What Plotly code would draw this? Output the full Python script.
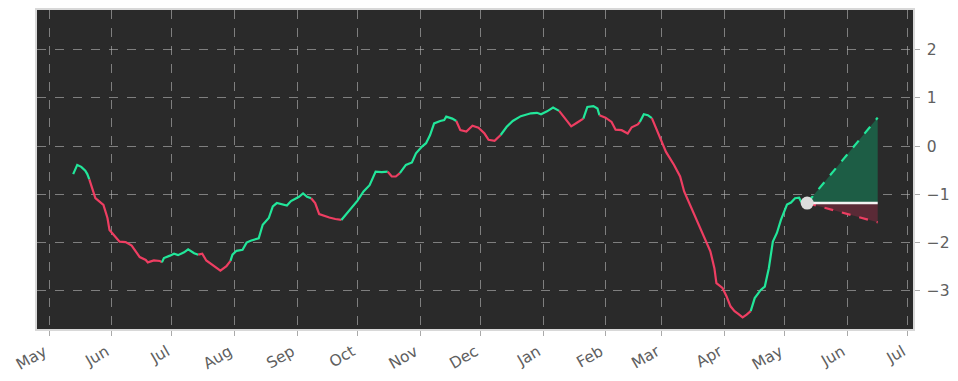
import pandas as pd
import plotly.graph_objects as go

# ---- data ----
base_date = "2024-05-01"
day_offsets = [12,14,16,18,19,20,22,23,27,29,30,33,35,38,41,43,45,48,49,52,55,56,57,60,62,64,67,69,72,74,
               76,78,81,82,85,88,90,91,93,96,98,100,104,106,109,111,113,115,118,120,124,126,128,130,132,134,
               136,139,142,145,147,150,153,156,159,162,165,168,170,172,174,177,180,182,185,187,189,191,194,196,
               197,200,202,204,207,210,213,216,218,221,224,227,230,234,239,242,244,247,250,253,256,259,262,265,
               267,270,272,273,276,279,281,284,287,289,292,293,295,297,299,301,304,306,310,313,315,318,320,323,
               326,328,330,331,334,336,338,340,342,344,346,348,350,353,355,357,359,361,363,366,368,370,372,373,376]
values = [-0.58,-0.39,-0.43,-0.51,-0.58,-0.69,-0.98,-1.08,-1.22,-1.49,-1.74,-1.89,-1.98,-1.99,-2.06,-2.18,-2.30,-2.36,-2.41,-2.37,
          -2.38,-2.41,-2.32,-2.27,-2.23,-2.26,-2.20,-2.14,-2.22,-2.25,-2.23,-2.37,-2.46,-2.48,-2.58,-2.49,-2.38,-2.25,-2.17,-2.15,
          -2.00,-1.96,-1.91,-1.63,-1.49,-1.25,-1.18,-1.20,-1.23,-1.14,-1.05,-0.98,-1.05,-1.08,-1.18,-1.41,-1.44,-1.48,-1.51,-1.53,
          -1.43,-1.28,-1.13,-0.94,-0.81,-0.53,-0.54,-0.53,-0.63,-0.63,-0.56,-0.39,-0.34,-0.15,-0.01,0.06,0.23,0.47,0.52,0.54,
          0.61,0.57,0.52,0.33,0.30,0.42,0.38,0.26,0.13,0.11,0.23,0.40,0.52,0.62,0.68,0.69,0.66,0.72,0.80,0.73,
          0.57,0.41,0.49,0.57,0.81,0.83,0.78,0.64,0.59,0.50,0.34,0.33,0.26,0.39,0.45,0.50,0.66,0.64,0.58,0.37,
          0.06,-0.12,-0.39,-0.63,-0.94,-1.22,-1.43,-1.70,-1.98,-2.18,-2.53,-2.84,-2.94,-3.11,-3.32,-3.42,-3.48,-3.55,-3.49,-3.42,
          -3.15,-2.98,-2.91,-2.53,-1.98,-1.80,-1.53,-1.21,-1.17,-1.08,-1.07,-1.15,-1.18]
# periods (day offsets) drawn in the "falling" colour
red_periods = [(20,56),(74,90),(130,145),(168,174),(202,224),(253,265),(273,293),(299,349)]

# forecast cone
fc_days = [376, 411]
fc_base = [-1.18, -1.18]
fc_upper = [-1.18, 0.59]
fc_lower = [-1.18, -1.58]

y_tickvals = [-3, -2, -1, 0, 1, 2]
y_ticktext = ["\u22123", "\u22122", "\u22121", "0", "1", "2"]

# ---- styling ----
GREEN = "#22e69a"
RED = "#ee3e62"
BG = "#2a2a2a"

t0 = pd.Timestamp(base_date)
dates = [t0 + pd.Timedelta(days=d) for d in day_offsets]
fc_dates = [t0 + pd.Timedelta(days=d) for d in fc_days]

def is_red(mid):
    return any(a <= mid < b for a, b in red_periods)

fig = go.Figure()

# colour runs
seg_cols = [RED if is_red((day_offsets[i] + day_offsets[i+1]) / 2) else GREEN for i in range(len(day_offsets) - 1)]
start = 0
for i in range(1, len(seg_cols) + 1):
    if i == len(seg_cols) or seg_cols[i] != seg_cols[start]:
        fig.add_trace(go.Scatter(x=dates[start:i+1], y=values[start:i+1], mode="lines",
                                 line=dict(color=seg_cols[start], width=2.2), hoverinfo="skip", showlegend=False))
        start = i

# forecast fills
fig.add_trace(go.Scatter(x=[fc_dates[0], fc_dates[1], fc_dates[1], fc_dates[0]],
                         y=[fc_base[0], fc_upper[1], fc_base[1], fc_base[0]],
                         fill="toself", fillcolor="#1d5d45", line=dict(width=0), mode="lines",
                         hoverinfo="skip", showlegend=False))
fig.add_trace(go.Scatter(x=[fc_dates[0], fc_dates[1], fc_dates[1], fc_dates[0]],
                         y=[fc_base[0], fc_lower[1], fc_base[1], fc_base[0]],
                         fill="toself", fillcolor="#5a2a36", line=dict(width=0), mode="lines",
                         hoverinfo="skip", showlegend=False))
fig.add_trace(go.Scatter(x=fc_dates, y=fc_upper, mode="lines", line=dict(color=GREEN, width=2.2, dash="dash"),
                         hoverinfo="skip", showlegend=False))
fig.add_trace(go.Scatter(x=fc_dates, y=fc_lower, mode="lines", line=dict(color=RED, width=2.2, dash="dash"),
                         hoverinfo="skip", showlegend=False))
fig.add_trace(go.Scatter(x=fc_dates, y=fc_base, mode="lines", line=dict(color="#f2f2f2", width=2.5),
                         hoverinfo="skip", showlegend=False))
fig.add_trace(go.Scatter(x=[fc_dates[0]], y=[fc_base[0]], mode="markers",
                         marker=dict(color="#dcdcdc", size=13, line=dict(width=0)),
                         hoverinfo="skip", showlegend=False))

font = dict(family="DejaVu Sans", size=15.5, color="#606060")
GRID = "rgba(185,185,185,0.6)"
fig.update_layout(
    width=958, height=381,
    margin=dict(l=37, r=45, t=10, b=52),
    paper_bgcolor="white", plot_bgcolor=BG,
    font=font, showlegend=False,
)
fig.update_xaxes(
    range=[t0 + pd.Timedelta(days=-5.95), t0 + pd.Timedelta(days=428.5)],
    tick0=base_date, dtick="M1", tickformat="%b", tickangle=-30,
    showgrid=True, gridcolor=GRID, griddash="dash", gridwidth=1,
    ticks="outside", ticklen=5, tickcolor="#aaaaaa", ticklabelstandoff=1, ticklabelshift=-5,
    showline=True, linecolor="#d8d8d8", linewidth=1.5, mirror=True,
    zeroline=False, tickfont=font, automargin=False,
)
fig.update_yaxes(
    range=[-3.79, 2.82], side="right",
    tickvals=y_tickvals, ticktext=y_ticktext,
    showgrid=True, gridcolor=GRID, griddash="dash", gridwidth=1,
    ticks="outside", ticklen=5, tickcolor="#aaaaaa", ticklabelstandoff=4,
    showline=True, linecolor="#d8d8d8", linewidth=1.5, mirror=True,
    zeroline=False, tickfont=font, automargin=False,
)

fig.write_html("out.html")
